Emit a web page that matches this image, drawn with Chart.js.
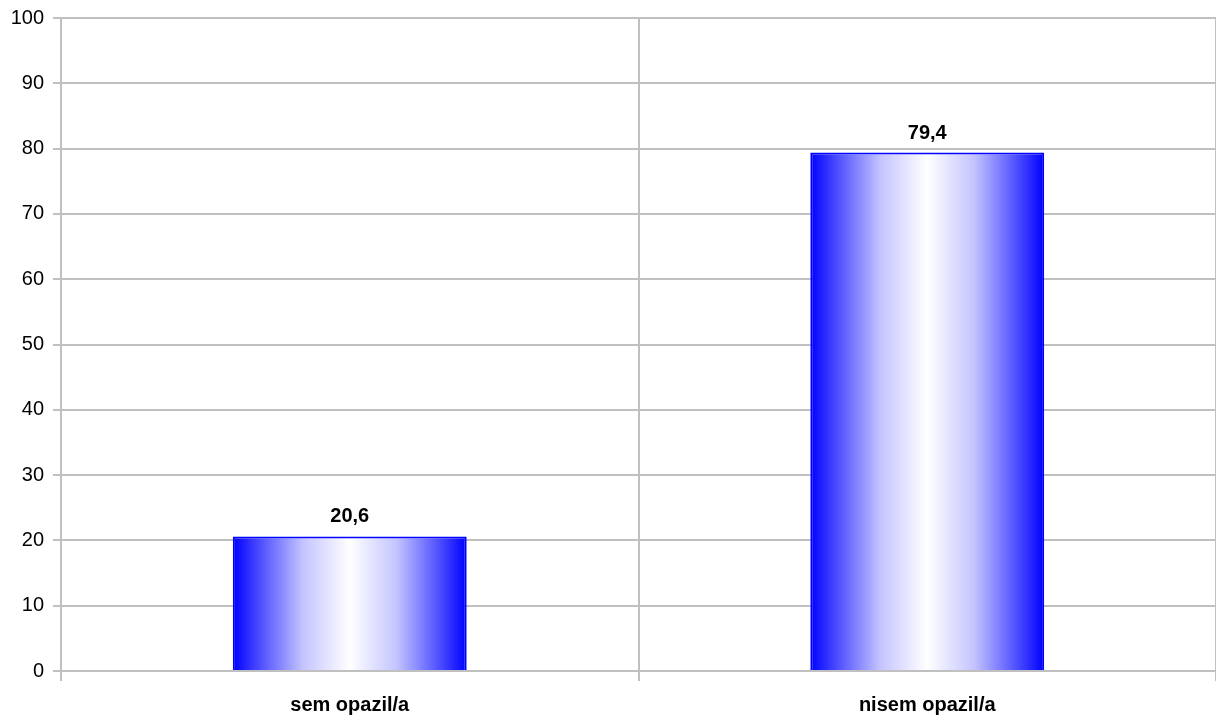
<!DOCTYPE html>
<html>
<head>
<meta charset="utf-8">
<script src="https://cdn.jsdelivr.net/npm/chart.js@4.4.1/dist/chart.umd.min.js"></script>
<style>
  html, body { margin: 0; padding: 0; background: #fff; }
  #wrap { width: 1216px; height: 717px; }
</style>
</head>
<body>
<div id="wrap"><canvas id="grafStolpci"></canvas></div>
<script>
const kategorije = ["sem opazil/a", "nisem opazil/a"];
const vrednosti = [20.6, 79.4];
const osY = { min: 0, max: 100, korak: 10 };

const pisava = "'Liberation Sans', Arial, sans-serif";

// blue - white - blue fill across each bar
function preliv(ctx, left, right) {
    const g = ctx.createLinearGradient(left, 0, right, 0);
    g.addColorStop(0, "#0000ff");
    g.addColorStop(0.12, "#5050ff");
    g.addColorStop(0.3, "#c4c4ff");
    g.addColorStop(0.5, "#ffffff");
    g.addColorStop(0.7, "#c4c4ff");
    g.addColorStop(0.88, "#5050ff");
    g.addColorStop(1, "#0000ff");
    return g;
}

const prelivPlugin = {
    id: "preliv",
    beforeDatasetsDraw(chart) {
        chart.getDatasetMeta(0).data.forEach(bar => {
            bar.options.backgroundColor = preliv(chart.ctx, bar.x - bar.width / 2, bar.x + bar.width / 2);
        });
    }
};

// value labels above the bars
const oznakePlugin = {
    id: "oznake",
    afterDatasetsDraw(chart) {
        const ctx = chart.ctx;
        ctx.save();
        ctx.font = "bold 20px " + pisava;
        ctx.fillStyle = "#000";
        ctx.textAlign = "center";
        ctx.textBaseline = "alphabetic";
        chart.getDatasetMeta(0).data.forEach((bar, i) => {
            ctx.fillText(vrednosti[i].toFixed(1).replace(".", ","), bar.x, bar.y - 14);
        });
        ctx.restore();
    }
};

document.addEventListener("DOMContentLoaded", () => {

    const canvas = document.getElementById("grafStolpci");

    new Chart(canvas, {
        type: "bar",
        data: {
            labels: kategorije,
            datasets: [{
                data: vrednosti,
                // scriptable so every bar gets its own options object
                backgroundColor: (c) => "#8080ff",
                borderColor: "#0000ff",
                borderWidth: 2,
                barPercentage: 0.405,
                categoryPercentage: 1
            }]
        },
        options: {
            responsive: true,
            maintainAspectRatio: false,
            animation: false,
            layout: { padding: { top: 18, right: 0, left: 0, bottom: 0 } },
            plugins: {
                legend: { display: false },
                tooltip: { enabled: false }
            },
            scales: {
                x: {
                    offset: true,
                    grid: {
                        offset: true,
                        color: "#c0c0c0",
                        lineWidth: 2,
                        tickLength: 10
                    },
                    border: { color: "#c0c0c0", width: 2 },
                    ticks: {
                        color: "#000",
                        padding: 12,
                        font: { family: pisava, size: 20, weight: "bold" }
                    },
                    afterFit(scale) { scale.height = 46; }
                },
                y: {
                    min: osY.min,
                    max: osY.max,
                    grid: {
                        color: "#c0c0c0",
                        lineWidth: 2,
                        tickLength: 8
                    },
                    border: { color: "#c0c0c0", width: 2 },
                    ticks: {
                        stepSize: osY.korak,
                        color: "#000",
                        padding: 9,
                        font: { family: pisava, size: 20 }
                    },
                    afterFit(scale) {
                        scale.width = 61;
                        scale.paddingTop = 0;
                        scale.paddingBottom = 0;
                    }
                }
            }
        },
        plugins: [prelivPlugin, oznakePlugin]
    });

});
</script>
</body>
</html>
